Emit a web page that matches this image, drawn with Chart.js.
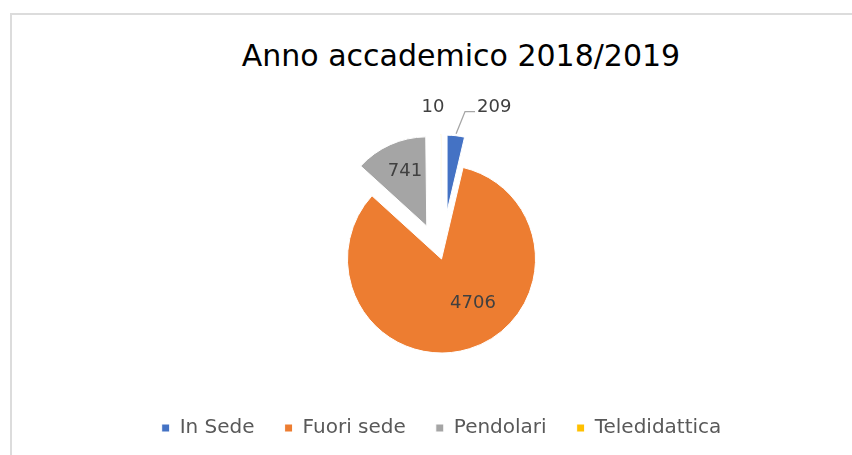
<!DOCTYPE html>
<html>
<head>
<meta charset="utf-8">
<script src="https://cdn.jsdelivr.net/npm/chart.js@4.4.1/dist/chart.umd.min.js"></script>
<style>
    html, body { margin: 0; padding: 0; background: #fff; overflow: hidden; }
    #frame { position: absolute; left: 10px; top: 13px; width: 900px; height: 500px; border: 2px solid #dcdcdc; }
    #title {
        position: absolute; left: 0; top: 41px; width: 922px; text-align: center;
        font-family: 'DejaVu Sans', sans-serif; font-size: 30px; line-height: 30px; color: #000;
    }
    #wrap { position: absolute; left: 0; top: 0; width: 852px; height: 455px; }
</style>
</head>
<body>
<div id="frame"></div>
<div id="title">Anno accademico 2018/2019</div>
<div id="wrap"><canvas id="pieChart" width="852" height="455"></canvas></div>
<script>
// Data
const LABELS = ['In Sede', 'Fuori sede', 'Pendolari', 'Teledidattica'];
const STUDENTS = [209, 4706, 741, 10];
const COLORS = ['#4472c4', '#ed7d31', '#a5a5a5', '#ffc000'];

// Look of the exploded Excel pie
const PIE_RADIUS = 94;
const EXPLODE = [48, 0, 36, 48];             // px a slice is pulled out along its bisector
const SLICE_SCALE = [0.81, 1, 0.95, 0.81];   // drawn radius relative to PIE_RADIUS
const LABEL_DIST = [114, 54, 59, 104];       // px from slice apex
const LABEL_TURN = [17.8, -18.4, 2.5, -4.2]; // degrees from slice bisector
const LEADER = [true, false, false, false];

// explode slices (Chart.js offset also narrows small slices, so move them here)
const sliceLook = {
    id: 'sliceLook',
    afterDatasetsUpdate(chart) {
        const meta = chart.getDatasetMeta(0);
        meta.data.forEach((arc, i) => {
            const mid = (arc.startAngle + arc.endAngle) / 2;
            arc.x += Math.cos(mid) * EXPLODE[i];
            arc.y += Math.sin(mid) * EXPLODE[i];
            arc.outerRadius = PIE_RADIUS * SLICE_SCALE[i];
        });
    }
};

const sliceLabels = {
    id: 'sliceLabels',
    afterDatasetsDraw(chart) {
        const ctx = chart.ctx;
        const meta = chart.getDatasetMeta(0);
        ctx.save();
        ctx.font = "18px 'DejaVu Sans'";
        ctx.textAlign = 'center';
        ctx.textBaseline = 'middle';
        meta.data.forEach((arc, i) => {
            const mid = (arc.startAngle + arc.endAngle) / 2;
            const a = mid + LABEL_TURN[i] * Math.PI / 180;
            const lx = arc.x + Math.cos(a) * LABEL_DIST[i];
            const ly = arc.y + Math.sin(a) * LABEL_DIST[i];
            const text = String(STUDENTS[i]);

            if (LEADER[i]) {
                const r = arc.outerRadius + 2;
                const w = ctx.measureText(text).width;
                ctx.beginPath();
                ctx.moveTo(arc.x + Math.cos(mid) * r, arc.y + Math.sin(mid) * r);
                ctx.lineTo(lx - w / 2 - 12, ly + 4);
                ctx.lineTo(lx - w / 2 - 2, ly + 4);
                ctx.strokeStyle = '#a6a6a6';
                ctx.lineWidth = 1.3;
                ctx.stroke();
            }
            ctx.fillStyle = '#404040';
            ctx.fillText(text, lx, ly);
        });
        ctx.restore();
    }
};

new Chart(document.getElementById('pieChart'), {
    type: 'pie',
    data: {
        labels: LABELS,
        datasets: [{
            data: STUDENTS,
            backgroundColor: COLORS,
            borderColor: '#fff',
            borderWidth: 1,
            hoverOffset: 0
        }]
    },
    options: {
        responsive: false,
        animation: false,
        radius: PIE_RADIUS,
        layout: { padding: { left: 120, right: 89, top: 130, bottom: 7 } },
        plugins: {
            title: { display: false },
            tooltip: { enabled: false },
            legend: {
                position: 'bottom',
                labels: {
                    boxWidth: 8,
                    boxHeight: 8,
                    padding: 30,
                    color: '#595959',
                    font: { family: "'DejaVu Sans'", size: 20 }
                }
            }
        }
    },
    plugins: [sliceLook, sliceLabels]
});
</script>
</body>
</html>
